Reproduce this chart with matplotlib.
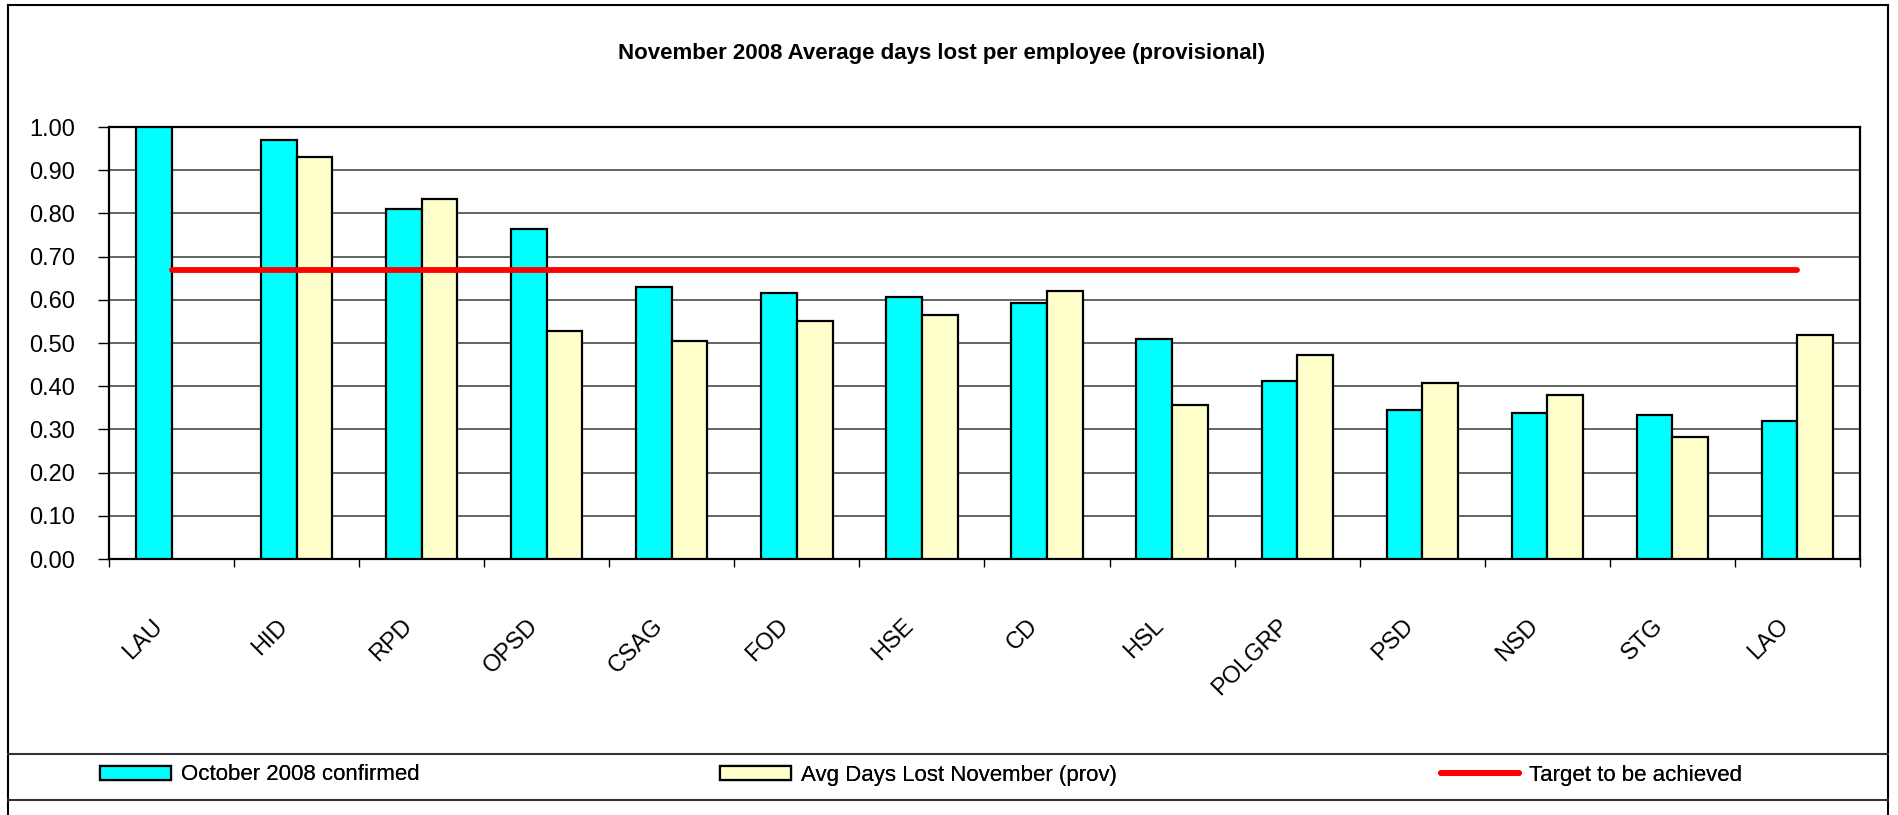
import numpy as np
import matplotlib
matplotlib.use("Agg")
import matplotlib.pyplot as plt
import matplotlib.transforms as mtransforms
from matplotlib.lines import Line2D

plt.rcParams['font.family'] = ['Liberation Sans', 'DejaVu Sans']

# data
departments = ['LAU', 'HID', 'RPD', 'OPSD', 'CSAG', 'FOD', 'HSE', 'CD',
               'HSL', 'POLGRP', 'PSD', 'NSD', 'STG', 'LAO']
oct_confirmed = [1.00, 0.97, 0.81, 0.764, 0.630, 0.615, 0.606, 0.592,
                 0.509, 0.412, 0.346, 0.338, 0.333, 0.319]
nov_prov = [np.nan, 0.930, 0.833, 0.528, 0.504, 0.551, 0.564, 0.621,
            0.356, 0.472, 0.407, 0.380, 0.282, 0.518]
target = 0.67
yticks = [0.0, 0.1, 0.2, 0.3, 0.4, 0.5, 0.6, 0.7, 0.8, 0.9, 1.0]

W, H = 1898, 815
fig = plt.figure(figsize=(W / 100, H / 100), dpi=100)
ax = fig.add_axes([109 / W, 1 - 559 / H, (1860 - 109) / W, (559 - 127) / H])

x = np.arange(len(departments))
w = 0.285
b1 = ax.bar(x - w / 2, oct_confirmed, w, color='#00FFFF', edgecolor='black',
            linewidth=1.6, zorder=3)
b2 = ax.bar(x + w / 2, nov_prov, w, color='#FFFFCC', edgecolor='black',
            linewidth=1.6, zorder=3)
ln, = ax.plot(x, [target] * len(x), color='#FF0000', linewidth=4.2,
              solid_capstyle='round', zorder=5)

ax.set_xlim(-0.5, len(x) - 0.5)
ax.set_ylim(0, 1.0)
ax.set_yticks(yticks)
ax.set_yticklabels(['%.2f' % v for v in yticks], fontsize=17)
ax.yaxis.grid(True, color='#3a3a3a', linewidth=1.1, zorder=0)
ax.set_axisbelow(True)
ax.tick_params(axis='y', direction='out', length=8, width=1.0, pad=16.5,
               colors='black')

# labels at centres, tick marks at category boundaries
ax.set_xticks(x)
ax.set_xticklabels(departments, fontsize=17, rotation=45, ha='right',
                   va='top', rotation_mode='anchor')
ax.tick_params(axis='x', which='major', length=0, pad=0)
ax.set_xticks(np.arange(-0.5, len(x)), minor=True)
ax.tick_params(axis='x', which='minor', direction='out', length=5.5, width=1.0)
offset = mtransforms.ScaledTranslation(-0.20, -0.56, fig.dpi_scale_trans)
for lab in ax.get_xticklabels():
    lab.set_transform(lab.get_transform() + offset)

for s in ax.spines.values():
    s.set_linewidth(1.6)
    s.set_color('black')

fig.text(0.496, 1 - 53 / H, 'November 2008 Average days lost per employee (provisional)',
         ha='center', va='center', fontsize=16, fontweight='bold')

# legend row, one entry per legend to place them like the original
leg_y = 1 - 775 / H
entries = [(b1, 'October 2008 confirmed', 100, 3.2),
           (b2, 'Avg Days Lost November (prov)', 720, 3.2),
           (ln, 'Target to be achieved', 1441, 3.5)]
for handle, text, xpos, hl in entries:
    lg = fig.legend([handle], [text], loc='center left',
                    bbox_to_anchor=(xpos / W, leg_y), frameon=False,
                    fontsize=16, handlelength=hl, handleheight=0.6,
                    handletextpad=0.45, borderpad=0, borderaxespad=0)
    fig.add_artist(lg)

# outer frame and legend separators
frame_col = '#333333'
fig.add_artist(Line2D([8 / W, 1888 / W], [1 - 5 / H, 1 - 5 / H],
                      transform=fig.transFigure, color='black', lw=1.5))
fig.add_artist(Line2D([8 / W, 8 / W], [0, 1 - 5 / H],
                      transform=fig.transFigure, color='black', lw=1.5))
fig.add_artist(Line2D([1888 / W, 1888 / W], [0, 1 - 5 / H],
                      transform=fig.transFigure, color='black', lw=1.5))
for yy in (754, 800):
    fig.add_artist(Line2D([8 / W, 1888 / W], [1 - yy / H, 1 - yy / H],
                          transform=fig.transFigure, color=frame_col, lw=1.5))

fig.savefig('out.png', dpi=100, facecolor='white')
